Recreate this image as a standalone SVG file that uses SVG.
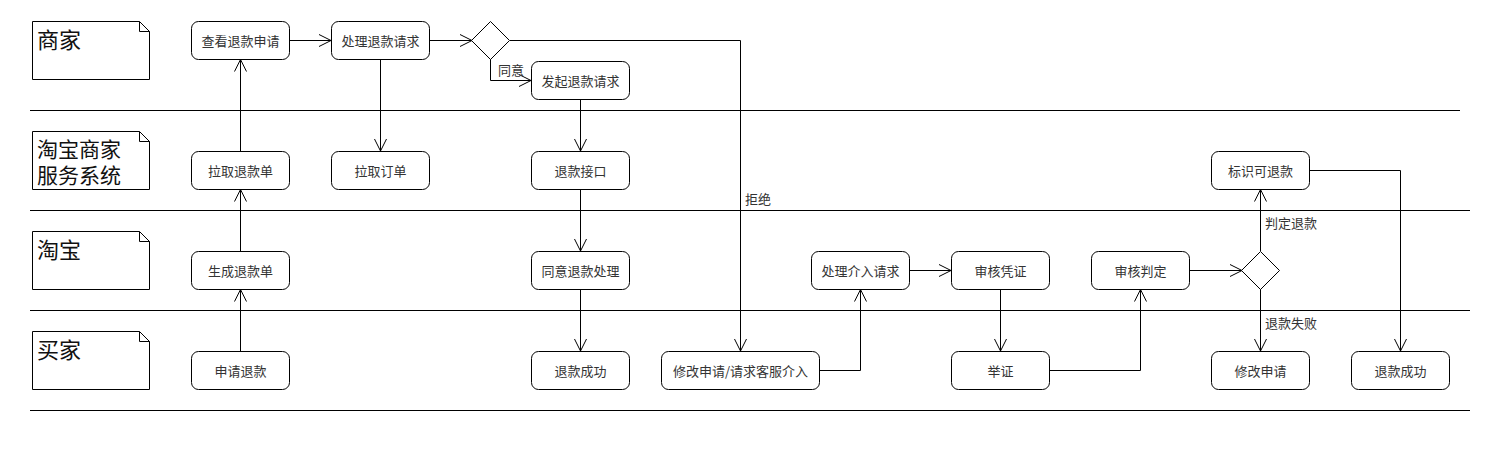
<svg xmlns="http://www.w3.org/2000/svg" width="1510" height="450" viewBox="0 0 1510 450">
<style>
.bg{fill:#fff}
.lane{stroke:#000;stroke-width:1;fill:none}
.note{fill:#fff;stroke:#000;stroke-width:1}
.title{font-family:"Noto Sans CJK SC","Noto Sans",sans-serif;font-size:22px;fill:#111}
.title2{font-family:"Noto Sans CJK SC","Noto Sans",sans-serif;font-size:21px;fill:#111}
.box{fill:#fff;stroke:#000;stroke-width:1}
.t{font-family:"Noto Sans CJK SC","Noto Sans",sans-serif;font-size:13px;fill:#333;text-anchor:middle;dominant-baseline:central}
.lbl{font-family:"Noto Sans CJK SC","Noto Sans",sans-serif;font-size:13px;fill:#333}
.c{fill:none;stroke:#000;stroke-width:1}
</style>
<defs>
<marker id="arr" viewBox="0 0 14 14" refX="13" refY="7" markerWidth="14" markerHeight="14" markerUnits="userSpaceOnUse" orient="auto">
<path d="M1,1 L13,7 L1,13" fill="none" stroke="#000" stroke-width="1"/>
</marker>
</defs>
<rect class="bg" x="0" y="0" width="1510" height="450"/>
<g id="lanes">
<line class="lane" x1="30" y1="110.5" x2="1460" y2="110.5"/>
<line class="lane" x1="30" y1="210.5" x2="1470" y2="210.5"/>
<line class="lane" x1="30" y1="310.5" x2="1470" y2="310.5"/>
<line class="lane" x1="30" y1="410.5" x2="1470" y2="410.5"/>
</g>
<g id="lane-merchant">
<path class="note" d="M32.5,21.5 H139.5 L149.5,31.5 V79.5 H32.5 Z M139.5,21.5 V31.5 H149.5"/>
<text class="title" x="37" y="48">商家</text>
</g>
<g id="lane-service">
<path class="note" d="M32.5,131.5 H139.5 L149.5,141.5 V189.5 H32.5 Z M139.5,131.5 V141.5 H149.5"/>
<text class="title2" x="37" y="157">淘宝商家<tspan x="37" dy="26">服务系统</tspan></text>
</g>
<g id="lane-taobao">
<path class="note" d="M32.5,231.5 H139.5 L149.5,241.5 V289.5 H32.5 Z M139.5,231.5 V241.5 H149.5"/>
<text class="title" x="37" y="258">淘宝</text>
</g>
<g id="lane-buyer">
<path class="note" d="M32.5,331.5 H139.5 L149.5,341.5 V389.5 H32.5 Z M139.5,331.5 V341.5 H149.5"/>
<text class="title" x="37" y="358">买家</text>
</g>
<g id="connectors">
<path class="c" d="M240.5,351 V289.5" marker-end="url(#arr)"/>
<path class="c" d="M240.5,251 V189.5" marker-end="url(#arr)"/>
<path class="c" d="M240.5,151 V59.5" marker-end="url(#arr)"/>
<path class="c" d="M289,40.5 H331" marker-end="url(#arr)"/>
<path class="c" d="M429,40.5 H472" marker-end="url(#arr)"/>
<path class="c" d="M380.5,59 V151" marker-end="url(#arr)"/>
<path class="c" d="M490.5,59 V80.5 H531" marker-end="url(#arr)"/>
<path class="c" d="M510,40.5 H740.5 V351" marker-end="url(#arr)"/>
<path class="c" d="M580.5,99 V151" marker-end="url(#arr)"/>
<path class="c" d="M580.5,189 V251" marker-end="url(#arr)"/>
<path class="c" d="M580.5,289 V351" marker-end="url(#arr)"/>
<path class="c" d="M819,370.5 H860.5 V289.5" marker-end="url(#arr)"/>
<path class="c" d="M909,270.5 H951" marker-end="url(#arr)"/>
<path class="c" d="M1000.5,289 V351" marker-end="url(#arr)"/>
<path class="c" d="M1049,370.5 H1140.5 V289.5" marker-end="url(#arr)"/>
<path class="c" d="M1189,270.5 H1242" marker-end="url(#arr)"/>
<path class="c" d="M1260.5,251 V189.5" marker-end="url(#arr)"/>
<path class="c" d="M1260.5,289 V351" marker-end="url(#arr)"/>
<path class="c" d="M1309,170.5 H1400.5 V351" marker-end="url(#arr)"/>
<text class="lbl" x="498" y="75">同意</text>
<text class="lbl" x="745" y="204">拒绝</text>
<text class="lbl" x="1265" y="228">判定退款</text>
<text class="lbl" x="1265" y="328">退款失败</text>
</g>
<g id="n-view"><rect class="box" x="191.5" y="21.5" width="98" height="38" rx="7"/><text class="t" x="240.5" y="40.5">查看退款申请</text></g>
<g id="n-handle"><rect class="box" x="331.5" y="21.5" width="98" height="38" rx="7"/><text class="t" x="380.5" y="40.5">处理退款请求</text></g>
<g id="d-decide1"><path class="box" d="M490.5,21.5 L509.5,40.5 L490.5,59.5 L471.5,40.5 Z"/></g>
<g id="n-initiate"><rect class="box" x="531.5" y="61.5" width="98" height="38" rx="7"/><text class="t" x="580.5" y="80.5">发起退款请求</text></g>
<g id="n-pullrefund"><rect class="box" x="191.5" y="151.5" width="98" height="38" rx="7"/><text class="t" x="240.5" y="170.5">拉取退款单</text></g>
<g id="n-pullorder"><rect class="box" x="331.5" y="151.5" width="98" height="38" rx="7"/><text class="t" x="380.5" y="170.5">拉取订单</text></g>
<g id="n-api"><rect class="box" x="531.5" y="151.5" width="98" height="38" rx="7"/><text class="t" x="580.5" y="170.5">退款接口</text></g>
<g id="n-mark"><rect class="box" x="1211.5" y="151.5" width="98" height="38" rx="7"/><text class="t" x="1260.5" y="170.5">标识可退款</text></g>
<g id="n-generate"><rect class="box" x="191.5" y="251.5" width="98" height="38" rx="7"/><text class="t" x="240.5" y="270.5">生成退款单</text></g>
<g id="n-agree"><rect class="box" x="531.5" y="251.5" width="98" height="38" rx="7"/><text class="t" x="580.5" y="270.5">同意退款处理</text></g>
<g id="n-intervene"><rect class="box" x="811.5" y="251.5" width="98" height="38" rx="7"/><text class="t" x="860.5" y="270.5">处理介入请求</text></g>
<g id="n-review"><rect class="box" x="951.5" y="251.5" width="98" height="38" rx="7"/><text class="t" x="1000.5" y="270.5">审核凭证</text></g>
<g id="n-judge"><rect class="box" x="1091.5" y="251.5" width="98" height="38" rx="7"/><text class="t" x="1140.5" y="270.5">审核判定</text></g>
<g id="d-decide2"><path class="box" d="M1260.5,251.5 L1279.5,270.5 L1260.5,289.5 L1241.5,270.5 Z"/></g>
<g id="n-apply"><rect class="box" x="191.5" y="351.5" width="98" height="38" rx="7"/><text class="t" x="240.5" y="370.5">申请退款</text></g>
<g id="n-success1"><rect class="box" x="531.5" y="351.5" width="98" height="38" rx="7"/><text class="t" x="580.5" y="370.5">退款成功</text></g>
<g id="n-modify1"><rect class="box" x="661.5" y="351.5" width="158" height="38" rx="7"/><text class="t" x="740.5" y="370.5">修改申请/请求客服介入</text></g>
<g id="n-evidence"><rect class="box" x="951.5" y="351.5" width="98" height="38" rx="7"/><text class="t" x="1000.5" y="370.5">举证</text></g>
<g id="n-modify2"><rect class="box" x="1211.5" y="351.5" width="98" height="38" rx="7"/><text class="t" x="1260.5" y="370.5">修改申请</text></g>
<g id="n-success2"><rect class="box" x="1351.5" y="351.5" width="98" height="38" rx="7"/><text class="t" x="1400.5" y="370.5">退款成功</text></g>
</svg>
